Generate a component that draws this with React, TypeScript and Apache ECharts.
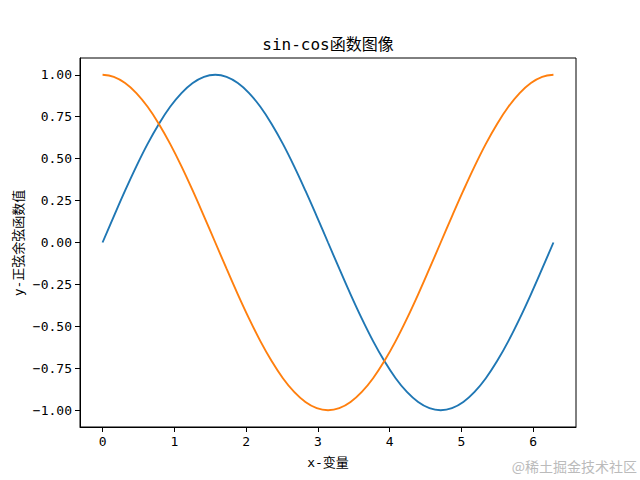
import React, { useEffect, useRef } from "react";
import * as echarts from "echarts";

const xValues = [
  0, 0.157, 0.314, 0.471, 0.628, 0.785, 0.942, 1.1, 1.257, 1.414, 1.571, 1.728, 1.885, 2.042,
  2.199, 2.356, 2.513, 2.67, 2.827, 2.985, 3.142, 3.299, 3.456, 3.613, 3.77, 3.927, 4.084,
  4.241, 4.398, 4.555, 4.712, 4.869, 5.027, 5.184, 5.341, 5.498, 5.655, 5.812, 5.969, 6.126,
  6.283,
];
const sinValues = [
  0, 0.156, 0.309, 0.454, 0.588, 0.707, 0.809, 0.891, 0.951, 0.988, 1, 0.988, 0.951, 0.891,
  0.809, 0.707, 0.588, 0.454, 0.309, 0.156, 0, -0.156, -0.309, -0.454, -0.588, -0.707, -0.809,
  -0.891, -0.951, -0.988, -1, -0.988, -0.951, -0.891, -0.809, -0.707, -0.588, -0.454, -0.309,
  -0.156, 0,
];
const cosValues = [
  1, 0.988, 0.951, 0.891, 0.809, 0.707, 0.588, 0.454, 0.309, 0.156, 0, -0.156, -0.309, -0.454,
  -0.588, -0.707, -0.809, -0.891, -0.951, -0.988, -1, -0.988, -0.951, -0.891, -0.809, -0.707,
  -0.588, -0.454, -0.309, -0.156, 0, 0.156, 0.309, 0.454, 0.588, 0.707, 0.809, 0.891, 0.951,
  0.988, 1,
];
const xTicks = [0, 1, 2, 3, 4, 5, 6];
const yTicks = [-1, -0.75, -0.5, -0.25, 0, 0.25, 0.5, 0.75, 1];

const titleText = "sin-cos函数图像";
const xLabel = "x-变量";
const yLabel = "y-正弦余弦函数值";
const watermark = "@稀土掘金技术社区";

const FONT = "'DejaVu Sans Mono', 'Noto Sans CJK SC', monospace";

export default function App() {
  const ref = useRef<HTMLDivElement>(null);
  useEffect(() => {
    document.body.style.margin = "0";
    const chart = echarts.init(ref.current!, undefined, { renderer: "svg" });
    const axisCommon = {
      type: "value" as const,
      axisLine: { show: true, onZero: false, lineStyle: { color: "#000", width: 1 } },
      axisTick: { show: true, inside: false, length: 5, lineStyle: { color: "#000", width: 1 } },
      splitLine: { show: false },
    };
    chart.setOption({
      animation: false,
      backgroundColor: "#fff",
      grid: {
        left: 80,
        right: 64,
        top: 58,
        bottom: 53,
        show: true,
        borderColor: "#000",
        borderWidth: 1,
        containLabel: false,
        outerBoundsMode: "none",
      },
      xAxis: {
        ...axisCommon,
        min: -0.31416,
        max: 6.59734,
        axisTick: { ...axisCommon.axisTick, customValues: xTicks },
        axisLabel: {
          customValues: xTicks,
          color: "#000",
          fontFamily: FONT,
          fontSize: 13,
          margin: 8,
          formatter: (v: number) => String(v),
        },
      },
      yAxis: {
        ...axisCommon,
        min: -1.1,
        max: 1.1,
        axisTick: { ...axisCommon.axisTick, customValues: yTicks },
        axisLabel: {
          customValues: yTicks,
          color: "#000",
          fontFamily: FONT,
          fontSize: 13,
          margin: 8,
          formatter: (v: number) => v.toFixed(2).replace("-", "\u2212"),
        },
      },
      series: [
        {
          type: "line",
          data: xValues.map((x, i) => [x, sinValues[i]]),
          showSymbol: false,
          smooth: 0.4,
          lineStyle: { color: "#1f77b4", width: 1.9 },
          itemStyle: { color: "#1f77b4" },
        },
        {
          type: "line",
          data: xValues.map((x, i) => [x, cosValues[i]]),
          showSymbol: false,
          smooth: 0.4,
          lineStyle: { color: "#ff7f0e", width: 1.9 },
          itemStyle: { color: "#ff7f0e" },
        },
      ],
      graphic: [
        {
          type: "text",
          x: 328,
          y: 44,
          style: {
            text: titleText,
            fontFamily: FONT,
            fontSize: 16,
            fill: "#000",
            align: "center",
            verticalAlign: "middle",
          },
        },
        {
          type: "text",
          x: 328,
          y: 462,
          style: {
            text: xLabel,
            fontFamily: FONT,
            fontSize: 13,
            fill: "#000",
            align: "center",
            verticalAlign: "middle",
          },
        },
        {
          type: "text",
          x: 18,
          y: 243,
          rotation: Math.PI / 2,
          originX: 0,
          originY: 0,
          style: {
            text: yLabel,
            fontFamily: FONT,
            fontSize: 13,
            fill: "#000",
            align: "center",
            verticalAlign: "middle",
          },
        },
        {
          type: "text",
          x: 637,
          y: 466,
          style: {
            text: watermark,
            fontFamily: "'Noto Sans CJK SC', sans-serif",
            fontSize: 14,
            fill: "#bbbbbb",
            align: "right",
            verticalAlign: "middle",
          },
        },
      ],
    });
    return () => chart.dispose();
  }, []);
  return <div ref={ref} style={{ position: "fixed", left: 0, top: 0, width: 640, height: 480 }} />;
}
